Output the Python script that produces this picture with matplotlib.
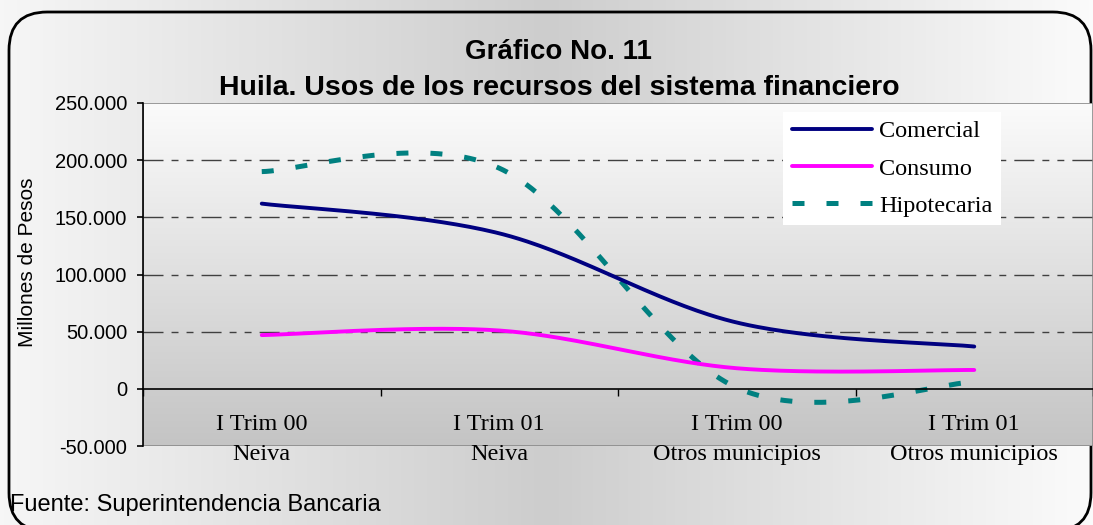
import numpy as np
import matplotlib.pyplot as plt
from matplotlib.colors import LinearSegmentedColormap
from matplotlib.patches import FancyBboxPatch, Rectangle

# ------------------------------------------------------------------ #
# Data (millones de pesos)
# ------------------------------------------------------------------ #
categories = ["I Trim 00\nNeiva", "I Trim 01\nNeiva",
              "I Trim 00\nOtros municipios", "I Trim 01\nOtros municipios"]
comercial = [162000, 136000, 58000, 37000]
consumo = [47000, 51000, 18000, 16500]
hipotecaria = [190000, 193000, 1000, 6000]
y_ticks = [-50000, 0, 50000, 100000, 150000, 200000, 250000]

W, H = 1093, 525
SANS = "Liberation Sans"
SERIF = "Liberation Serif"


# ------------------------------------------------------------------ #
# Excel-style smoothed line: cubic Bezier through every point
# ------------------------------------------------------------------ #
def smooth(xs, ys, n=60):
    pts = np.column_stack([xs, ys]).astype(float)
    out = []
    for i in range(len(pts) - 1):
        p0 = pts[max(i - 1, 0)]
        p1, p2 = pts[i], pts[i + 1]
        p3 = pts[min(i + 2, len(pts) - 1)]
        c1 = p1 + (p2 - p0) / 6.0
        c2 = p2 - (p3 - p1) / 6.0
        t = np.linspace(0, 1, n)[:, None]
        seg = ((1 - t) ** 3) * p1 + 3 * ((1 - t) ** 2) * t * c1 \
            + 3 * (1 - t) * t ** 2 * c2 + t ** 3 * p2
        out.append(seg if i == 0 else seg[1:])
    seg = np.vstack(out)
    return seg[:, 0], seg[:, 1]


fig = plt.figure(figsize=(W / 100, H / 100), dpi=100)

# background gradient (light - grey - light, left to right)
bg = fig.add_axes([0, 0, 1, 1], zorder=-10)
bg_cmap = LinearSegmentedColormap.from_list(
    "bg", [(0.0, "#f6f6f6"), (0.5, "#cdcdcd"), (1.0, "#fbfbfb")])
bg.imshow(np.linspace(0, 1, 256)[None, :], cmap=bg_cmap, aspect="auto",
          extent=[0, 1, 0, 1])
bg.set_xlim(0, 1)
bg.set_ylim(0, 1)
bg.axis("off")
bg.add_patch(FancyBboxPatch((9 / W, -6 / H), (W - 11) / W, (H - 6) / H,
                            boxstyle="round,pad=0,rounding_size=0.035",
                            transform=bg.transAxes, fill=False,
                            edgecolor="black", linewidth=2, mutation_aspect=W / H))

# plot area
ax = fig.add_axes([143 / W, (H - 446) / H, 950 / W, 343 / H])
x = np.arange(len(categories))
ax.set_xlim(-0.5, len(categories) - 0.5)
ax.set_ylim(-50000, 250000)

pa_cmap = LinearSegmentedColormap.from_list("pa", ["#c4c4c4", "#fbfbfb"])
ax.imshow(np.linspace(0, 1, 256)[:, None], cmap=pa_cmap, aspect="auto",
          origin="lower", extent=[-0.5, len(categories) - 0.5, -50000, 250000],
          zorder=0)
ax.add_patch(Rectangle((0, 0), 1, 1, transform=ax.transAxes, fill=False,
                       edgecolor="#8a8a8a", linewidth=1.2, zorder=1))

for v in y_ticks[2:-1]:
    ax.axhline(v, color="#404040", linewidth=1,
               linestyle=(0, (14.4, 5.8, 5, 5.8, 5, 5.8)), zorder=1)

sx, sy = smooth(x, comercial)
ax.plot(sx, sy, color="#000080", linewidth=2.8, solid_capstyle="round",
        label="Comercial", zorder=4)
sx, sy = smooth(x, consumo)
ax.plot(sx, sy, color="#ff00ff", linewidth=2.8, solid_capstyle="round",
        label="Consumo", zorder=4)
sx, sy = smooth(x, hipotecaria)
ax.plot(sx, sy, color="#008080", linewidth=3.6, dash_capstyle="butt",
        linestyle=(0, (2.4, 4.4)), label="Hipotecaria", zorder=3)

# axes
for s in ["top", "right"]:
    ax.spines[s].set_visible(False)
ax.spines["left"].set_color("black")
ax.spines["left"].set_linewidth(1.2)
ax.spines["left"].set_zorder(5)
ax.spines["bottom"].set_position(("data", 0))
ax.spines["bottom"].set_linewidth(1.2)
ax.spines["bottom"].set_zorder(5)

ax.set_yticks(y_ticks)
ax.set_yticklabels([f"{v:,.0f}".replace(",", ".") for v in y_ticks],
                   fontfamily=SANS, fontsize=14.5)
ax.tick_params(axis="y", direction="out", length=4.5, width=1.2, pad=7)

ax.set_xticks(x)
ax.set_xticklabels(categories, fontfamily=SERIF, fontsize=17.5,
                   linespacing=1.6)
ax.set_xticks(np.arange(len(categories) + 1) - 0.5, minor=True)
ax.tick_params(axis="x", which="major", length=0, pad=18)
ax.tick_params(axis="x", which="minor", direction="out", length=5, width=1)

leg = ax.legend(loc="upper left", bbox_to_anchor=(0.674, 0.974),
                prop={"family": SERIF, "size": 17.5}, frameon=True,
                fancybox=False, handlelength=3.3, handletextpad=0.3,
                labelspacing=0.62, borderpad=0.35, borderaxespad=0)
leg.get_frame().set_facecolor("white")
leg.get_frame().set_edgecolor("none")
leg.get_frame().set_alpha(1)

# texts
fig.text(558 / W, 1 - 59 / H, "Gráfico No. 11", ha="center", va="baseline",
         fontfamily=SANS, fontweight="bold", fontsize=20)
fig.text(559 / W, 1 - 95 / H, "Huila. Usos de los recursos del sistema financiero",
         ha="center", va="baseline", fontfamily=SANS, fontweight="bold",
         fontsize=20.5)
fig.text(28 / W, 1 - 262 / H, "Millones de Pesos", rotation=90, ha="center",
         va="center", fontfamily=SANS, fontsize=15)
fig.text(10 / W, 1 - 511 / H, "Fuente: Superintendencia Bancaria",
         ha="left", va="baseline", fontfamily=SANS, fontsize=17)

fig.savefig("out.png", dpi=100)
